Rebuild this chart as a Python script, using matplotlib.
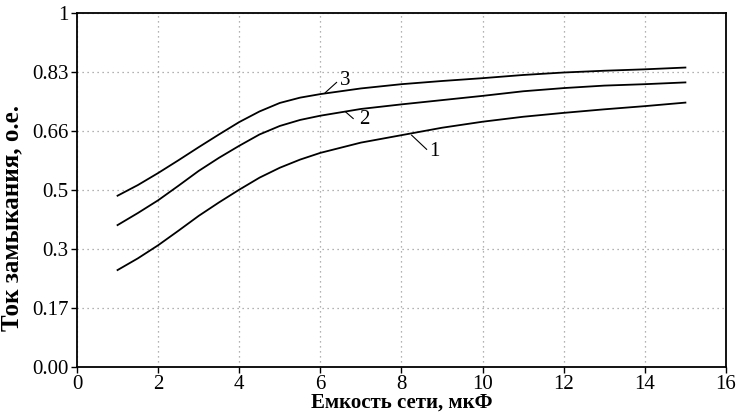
import numpy as np
import matplotlib
matplotlib.use("Agg")
import matplotlib.pyplot as plt

# емкость сети, мкФ
capacity = [1, 1.5, 2, 2.5, 3, 3.5, 4, 4.5, 5, 5.5, 6,
            7, 8, 9, 10, 11, 12, 13, 14, 15]

# ток замыкания, о.е. (кривые 1, 2, 3)
current_1 = [0.274, 0.307, 0.344, 0.385, 0.427, 0.465, 0.501, 0.535, 0.563, 0.586, 0.605,
             0.634, 0.655, 0.676, 0.693, 0.707, 0.718, 0.728, 0.737, 0.747]
current_2 = [0.401, 0.435, 0.471, 0.512, 0.554, 0.591, 0.625, 0.657, 0.681, 0.698, 0.710,
             0.729, 0.742, 0.754, 0.766, 0.779, 0.788, 0.795, 0.799, 0.804]
current_3 = [0.484, 0.514, 0.548, 0.584, 0.621, 0.657, 0.692, 0.722, 0.746, 0.761, 0.771,
             0.787, 0.799, 0.808, 0.816, 0.825, 0.832, 0.837, 0.841, 0.846]

y_ticks = [0, 1/6, 2/6, 3/6, 4/6, 5/6, 1]
y_tick_labels = ["0.00", "0.17", "0.3", "0.5", "0.66", "0.83", "1"]
x_ticks = [0, 2, 4, 6, 8, 10, 12, 14, 16]

# подписи кривых: (текст, позиция текста, начало и конец выноски)
curve_labels = [
    ("1", (8.80, 0.608), (8.25, 0.655), (8.62, 0.615)),
    ("2", (7.09, 0.700), (6.62, 0.721), (6.81, 0.702)),
    ("3", (6.62, 0.809), (6.12, 0.775), (6.40, 0.804)),
]

plt.rcParams['font.family'] = ['Liberation Serif', 'DejaVu Serif']

fig = plt.figure(figsize=(7.38, 4.2), dpi=100)
ax = fig.add_axes([0.1043, 0.126, 0.8794, 0.843])

for c in [current_1, current_2, current_3]:
    ax.plot(capacity, c, color='black', lw=1.3)

for txt, pos, p0, p1 in curve_labels:
    ax.plot([p0[0], p1[0]], [p0[1], p1[1]], color='black', lw=0.8)
    ax.text(pos[0], pos[1], txt, fontsize=15, ha='center', va='center')

ax.set_xlim(0, 16)
ax.set_ylim(0, 1)
ax.set_xticks(x_ticks)
ax.set_yticks(y_ticks)
ax.set_yticklabels(y_tick_labels)
ax.tick_params(labelsize=15, length=4, width=1, direction='out', pad=2)
ax.grid(True, color='#999999', linestyle=(0, (1, 3)), lw=0.9)

for s in ax.spines.values():
    s.set_linewidth(1.3)

ax.set_xlabel('Емкость сети, мкФ', fontsize=15, fontweight='bold', labelpad=-1)
ax.set_ylabel('Ток замыкания, о.е.', fontsize=18, fontweight='bold')
ax.yaxis.set_label_coords(-0.083, 0.42)

fig.savefig('out.png', dpi=100)
